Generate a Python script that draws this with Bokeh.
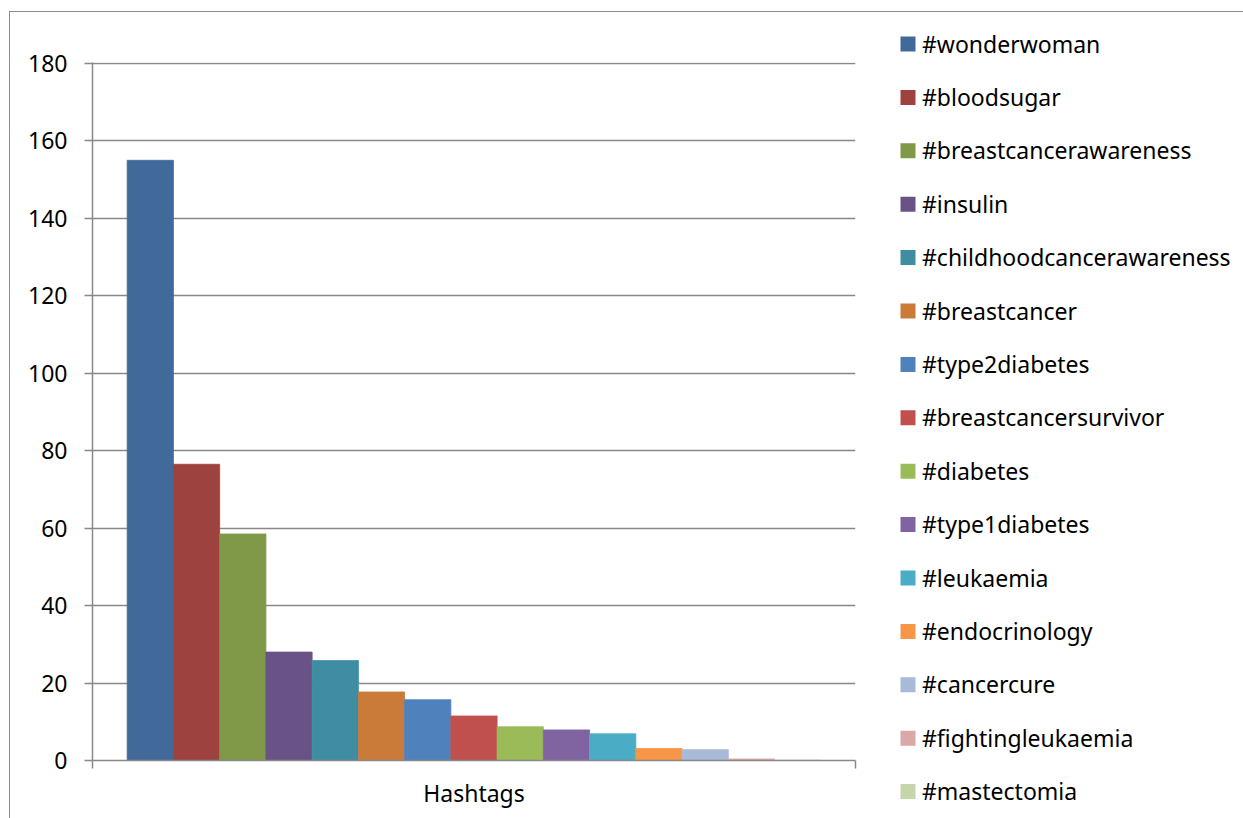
from bokeh.plotting import figure
from bokeh.layouts import row
from bokeh.models import ColumnDataSource, Range1d, FixedTicker, InlineStyleSheet
from bokeh.core.properties import value
from bokeh.embed import file_html
from bokeh.resources import INLINE

hashtags = ["#wonderwoman", "#bloodsugar", "#breastcancerawareness", "#insulin",
            "#childhoodcancerawareness", "#breastcancer", "#type2diabetes",
            "#breastcancersurvivor", "#diabetes", "#type1diabetes", "#leukaemia",
            "#endocrinology", "#cancercure", "#fightingleukaemia", "#mastectomia"]
counts = [155, 76.5, 58.5, 28, 25.8, 17.7, 15.7, 11.5, 8.7, 7.9, 6.9, 3.1, 2.8, 0.4, 0.1]
colors = ["#416A9B", "#9D423F", "#7F9949", "#695285", "#3E8DA3", "#CB7B39",
          "#4F81BD", "#C0504D", "#9BBB59", "#8064A2", "#4BACC6", "#F79646",
          "#A9B9D8", "#D9A9A8", "#C6D6AB"]
category = "Hashtags"
y_ticks = list(range(0, 181, 20))

FONT = "Noto Sans"
FS = "23px"
GRAY = "#898989"

# ---------------- chart ----------------
gap = 0.75
xs = [gap + 0.5 + i for i in range(len(counts))]
x_end = len(counts) + 2 * gap

src = ColumnDataSource(dict(x=xs, top=counts, color=colors, name=hashtags))

css_a = InlineStyleSheet(css="""
:host { position: relative; }
:host::after {
  content: ''; position: absolute; left: 9px; top: 11px; width: 900px; height: 900px;
  border-left: 1px solid #8c8c8c; border-top: 1px solid #8c8c8c;
  pointer-events: none; box-sizing: border-box;
}
""")
css_b = InlineStyleSheet(css="""
:host { position: relative; }
:host::after {
  content: ''; position: absolute; left: 0px; top: 11px; width: 400px; height: 900px;
  border-top: 1px solid #8c8c8c;
  pointer-events: none; box-sizing: border-box;
}
""")

p = figure(width=880, height=818, output_backend="svg", toolbar_location=None,
           x_range=Range1d(0, x_end), y_range=Range1d(0, 180.26),
           min_border_left=92, min_border_right=25, min_border_top=62,
           min_border_bottom=58, stylesheets=[css_a])
p.frame_align = False
p.outline_line_color = None
p.background_fill_color = "white"
p.border_fill_color = "white"

r = p.vbar(x="x", top="top", width=1.0, bottom=0, fill_color="color",
           line_color="color", line_width=0.8, source=src)

p.yaxis.ticker = FixedTicker(ticks=y_ticks)
p.yaxis.axis_line_color = GRAY
p.yaxis.axis_line_width = 1.5
p.yaxis.major_tick_line_color = GRAY
p.yaxis.major_tick_line_width = 1.5
p.yaxis.major_tick_out = 8
p.yaxis.major_tick_in = 0
p.yaxis.minor_tick_line_color = None
p.yaxis.major_label_standoff = 17
p.yaxis.major_label_text_font = FONT
p.yaxis.major_label_text_font_size = FS
p.yaxis.major_label_text_color = "#000000"

center = x_end / 2
p.xaxis.ticker = FixedTicker(ticks=[center], minor_ticks=[0, x_end])
p.xaxis.major_label_overrides = {center: category}
p.xaxis.major_tick_line_color = None
p.xaxis.minor_tick_line_color = GRAY
p.xaxis.minor_tick_line_width = 1.5
p.xaxis.minor_tick_out = 8
p.xaxis.minor_tick_in = 0
p.xaxis.axis_line_color = GRAY
p.xaxis.axis_line_width = 1.5
p.xaxis.major_label_standoff = 8
p.xaxis.major_label_text_font = FONT
p.xaxis.major_label_text_font_size = FS
p.xaxis.major_label_text_color = "#000000"

p.xgrid.grid_line_color = None
p.ygrid.ticker = FixedTicker(ticks=y_ticks)
p.ygrid.grid_line_color = GRAY
p.ygrid.grid_line_width = 1.5

# ---------------- legend panel ----------------
LW, LH = 363, 818
first_y, pitch = 43.5, 53.4
sq_x, txt_x, sq = 27.5, 41.5, 15
leg = ColumnDataSource(dict(
    y=[first_y + pitch * i for i in range(len(hashtags))],
    yb=[first_y + pitch * i - 0.5 for i in range(len(hashtags))],
    label=hashtags, color=colors))

q = figure(width=LW, height=LH, output_backend="svg", toolbar_location=None,
           x_range=Range1d(0, LW), y_range=Range1d(LH, 0),
           x_axis_location=None, y_axis_location=None,
           min_border=0, min_border_left=0, min_border_right=0,
           min_border_top=0, min_border_bottom=0, stylesheets=[css_b])
q.frame_align = False
q.outline_line_color = None
q.grid.visible = False
q.background_fill_color = "white"
q.border_fill_color = "white"
q.scatter(x=sq_x, y="y", size=sq, marker="square", fill_color="color",
          line_color=None, source=leg)
q.text(x=txt_x, y="yb", text="label", text_font=value(FONT), text_font_size=FS,
       text_baseline="alphabetic", text_align="left", text_color="#000000",
       source=leg)

layout = row(p, q, spacing=0)
open("out.html", "w").write(file_html(layout, INLINE))
